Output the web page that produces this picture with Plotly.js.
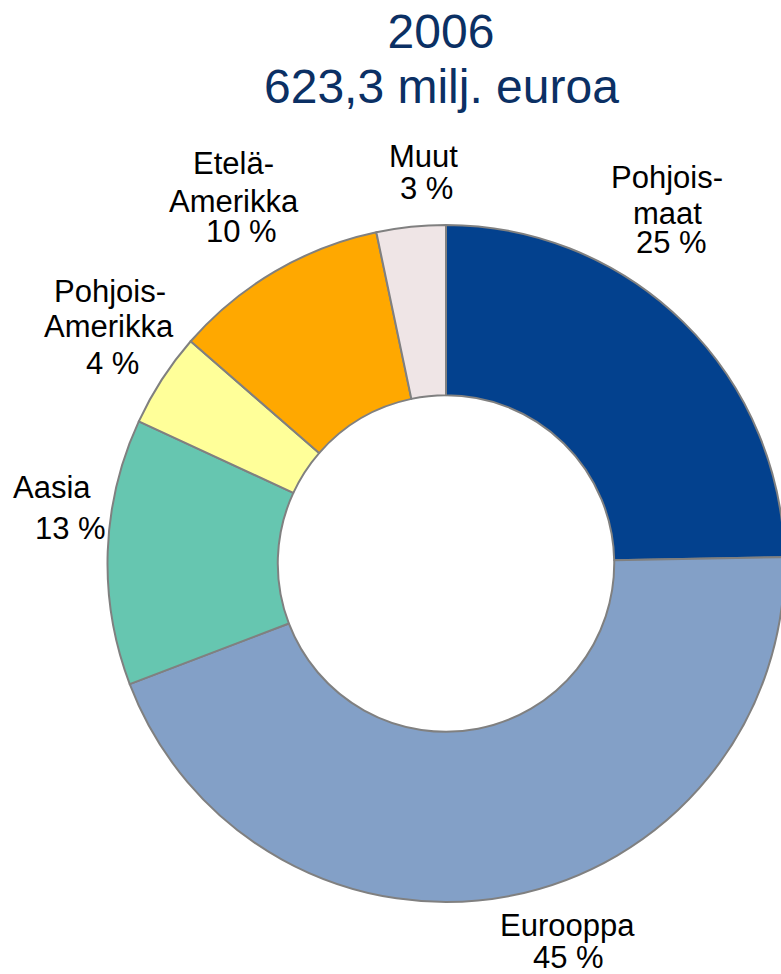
<!DOCTYPE html>
<html>
<head>
<meta charset="utf-8">
<script src="https://cdn.plot.ly/plotly-3.0.1.min.js"></script>
<style>
  html, body { margin: 0; padding: 0; overflow: hidden; background: #fff; }
  #chart { width: 800px; height: 974px; }
</style>
</head>
<body>
<div id="chart"></div>
<script>
// ---- data ----
const regions = ['Pohjoismaat', 'Eurooppa', 'Aasia', 'Pohjois-Amerikka', 'Etelä-Amerikka', 'Muut'];
const shares = [24.7, 44.5, 12.7, 4.5, 10.3, 3.3];
const labelLines = [['Pohjois-', 'maat'], ['Eurooppa'], ['Aasia'], ['Pohjois-', 'Amerikka'], ['Etelä-', 'Amerikka'], ['Muut']];
const shareLabels = ['25 %', '45 %', '13 %', '4 %', '10 %', '3 %'];
const titleLines = ['2006', '623,3 milj. euroa'];

// ---- layout / style ----
const W = 800, H = 974;
const colors = ['#03418E', '#83A0C7', '#66C6B0', '#FFFF99', '#FFA800', '#EFE5E6'];
// [x-center, baseline] in px for each text line of each label (name lines, then share line)
const labelPos = [
  [[667, 188], [667, 225], [671, 254]],
  [[567, 936], [568, 968]],
  [[52, 498], [70, 539]],
  [[110, 302], [109, 337], [112, 374]],
  [[233, 175], [234, 212], [241, 242]],
  [[423, 167], [427, 200]]
];
const labelFont = { family: 'Liberation Sans, Arial, sans-serif', size: 31, color: '#000000' };
const titleFont = { family: 'Liberation Sans, Arial, sans-serif', size: 48, color: '#0B3064' };

const annotations = [];
regions.forEach((r, i) => {
  const lines = labelLines[i].concat([shareLabels[i]]);
  lines.forEach((t, j) => {
    const p = labelPos[i][j];
    annotations.push({
      text: t, showarrow: false, xref: 'paper', yref: 'paper',
      x: p[0] / W, y: 1 - (p[1] - 11) / H,
      xanchor: 'center', yanchor: 'middle', font: labelFont
    });
  });
});
annotations.push({
  text: titleLines[1], showarrow: false, xref: 'paper', yref: 'paper',
  x: 441 / W, y: 1 - 86.5 / H, xanchor: 'center', yanchor: 'middle', font: titleFont
});

const trace = {
  type: 'pie',
  labels: regions,
  values: shares,
  sort: false,
  direction: 'clockwise',
  rotation: 0,
  hole: 0.497,
  textinfo: 'none',
  hoverinfo: 'label+percent',
  marker: { colors: colors, line: { color: '#808080', width: 2 } },
  domain: { x: [107.5 / W, 784.5 / W], y: [72 / H, 749 / H] },
  showlegend: false
};

const layout = {
  width: W, height: H,
  margin: { l: 0, r: 0, t: 0, b: 0 },
  paper_bgcolor: '#ffffff',
  showlegend: false,
  title: {
    text: titleLines[0], font: titleFont,
    x: 441 / W, xanchor: 'center', xref: 'paper',
    y: 1 - 31.5 / H, yanchor: 'middle', yref: 'container'
  },
  annotations: annotations
};

Plotly.newPlot('chart', [trace], layout, { displayModeBar: false, staticPlot: true });
</script>
</body>
</html>
